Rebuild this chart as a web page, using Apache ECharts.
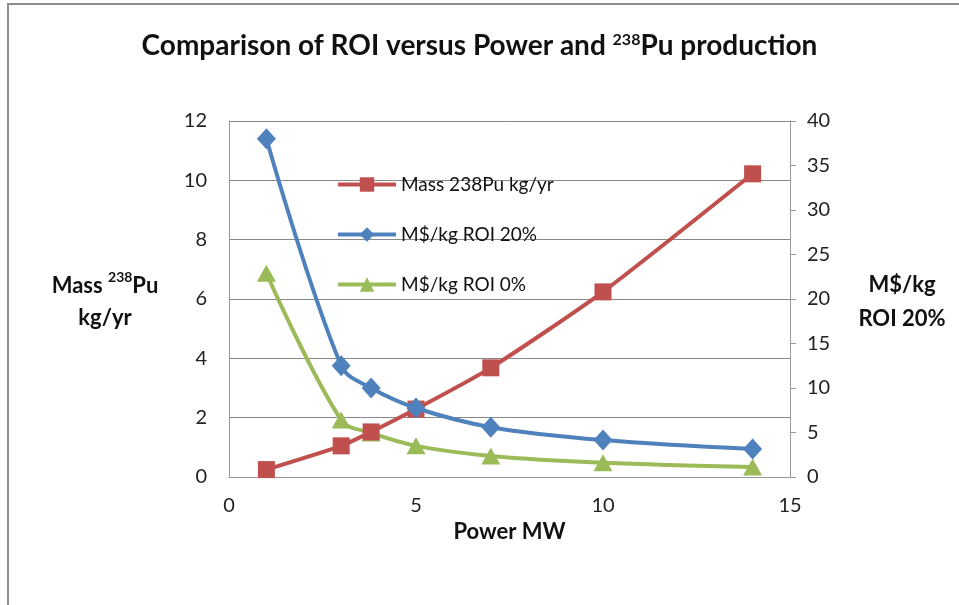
<!DOCTYPE html>
<html>
<head>
<meta charset="utf-8">
<script src="https://cdn.jsdelivr.net/npm/echarts@6/dist/echarts.min.js"></script>
<style>
  html, body { margin: 0; padding: 0; background: #fff; }
  #chart { width: 959px; height: 605px; }
</style>
</head>
<body>
<div id="chart"></div>
<script>
  // power (MW)
  const power = [1, 3, 3.8, 5, 7, 10, 14];
  // Mass 238Pu kg/yr (left axis)
  const mass = [0.25, 1.05, 1.52, 2.29, 3.68, 6.24, 10.22];
  // M$/kg at ROI 20% and 0% (right axis)
  const roi20 = [38.0, 12.5, 10.0, 7.75, 5.6, 4.15, 3.15];
  const roi0 = [22.9, 6.4, 4.95, 3.5, 2.37, 1.6, 1.13];

  const names = ['Mass 238Pu kg/yr', 'M$/kg ROI 20%', 'M$/kg ROI 0%'];
  const font = 'Lato, "Open Sans", sans-serif';

  const pairs = (ys) => power.map((x, i) => [x, ys[i]]);

  const chartObj = echarts.init(document.getElementById('chart'));
  const option = {
    animation: false,
    backgroundColor: '#fff',
    textStyle: { fontFamily: font },
    title: {
      left: 'center',
      top: 27,
      text: 'Comparison of ROI versus Power and {sup|238}Pu production',
      textStyle: {
        fontFamily: font,
        fontSize: 28,
        fontWeight: 'bold',
        color: '#111',
        rich: {
          sup: { fontSize: 16, fontWeight: 'bold', color: '#111', verticalAlign: 'top', padding: [0, 0, 12, 0] }
        }
      }
    },
    grid: { left: 229, right: 169, top: 121, bottom: 128 },
    legend: {
      orient: 'vertical',
      left: 331,
      top: 170,
      itemGap: 31,
      itemWidth: 58,
      itemHeight: 18,
      lineStyle: { width: 4 },
      textStyle: { fontFamily: font, fontSize: 19, color: '#111' },
      data: names
    },
    xAxis: {
      type: 'value',
      min: 0, max: 15, interval: 5,
      name: 'Power MW',
      nameLocation: 'middle',
      nameGap: 30,
      nameTextStyle: { fontFamily: font, fontSize: 22, fontWeight: 'bold', color: '#111' },
      axisLine: { lineStyle: { color: '#999' } },
      axisTick: { show: false },
      axisLabel: { fontFamily: font, fontSize: 20, color: '#222', margin: 19 },
      splitLine: { show: false }
    },
    yAxis: [
      {
        type: 'value',
        min: 0, max: 12, interval: 2,
        position: 'left',
        axisLine: { show: true, lineStyle: { color: '#999' } },
        axisTick: { show: false },
        axisLabel: { fontFamily: font, fontSize: 20, color: '#222', margin: 22 },
        splitLine: { lineStyle: { color: '#888' } }
      },
      {
        type: 'value',
        min: 0, max: 40, interval: 5,
        position: 'right',
        axisLine: { show: true, lineStyle: { color: '#999' } },
        axisTick: { show: true, length: 6, lineStyle: { color: '#999' } },
        axisLabel: { fontFamily: font, fontSize: 20, color: '#222', margin: 17 },
        splitLine: { show: false }
      }
    ],
    graphic: [
      {
        type: 'rect',
        silent: true,
        shape: { x: 8, y: 4, width: 1200, height: 800 },
        style: { fill: null, stroke: '#8c8c8c', lineWidth: 2 }
      },
      {
        type: 'text',
        x: 105, y: 270,
        style: {
          text: 'Mass {sup|238}Pu\nkg/yr',
          align: 'center',
          font: 'bold 22px ' + font,
          fill: '#111',
          lineHeight: 32,
          rich: { sup: { font: 'bold 14px ' + font, fill: '#111', verticalAlign: 'top', padding: [0, 0, 10, 0] } }
        }
      },
      {
        type: 'text',
        x: 902, y: 268,
        style: {
          text: 'M$/kg\nROI 20%',
          align: 'center',
          font: 'bold 22px ' + font,
          fill: '#111',
          lineHeight: 34
        }
      }
    ],
    series: [
      {
        name: names[0],
        type: 'line',
        yAxisIndex: 0,
        smooth: 0.2,
        data: pairs(mass),
        symbol: 'rect',
        symbolSize: 17,
        color: '#C0504D',
        lineStyle: { width: 4, color: '#C0504D' },
        itemStyle: { color: '#C0504D' },
        z: 3
      },
      {
        name: names[1],
        type: 'line',
        yAxisIndex: 1,
        smooth: 0.35,
        data: pairs(roi20),
        symbol: 'diamond',
        symbolSize: [19, 21],
        color: '#4F81BD',
        lineStyle: { width: 4, color: '#4F81BD' },
        itemStyle: { color: '#4F81BD' },
        z: 4
      },
      {
        name: names[2],
        type: 'line',
        yAxisIndex: 1,
        smooth: 0.35,
        data: pairs(roi0),
        symbol: 'triangle',
        symbolSize: [19, 17],
        color: '#9BBB59',
        lineStyle: { width: 4, color: '#9BBB59' },
        itemStyle: { color: '#9BBB59' },
        z: 2
      }
    ]
  };
  chartObj.setOption(option);
</script>
</body>
</html>
